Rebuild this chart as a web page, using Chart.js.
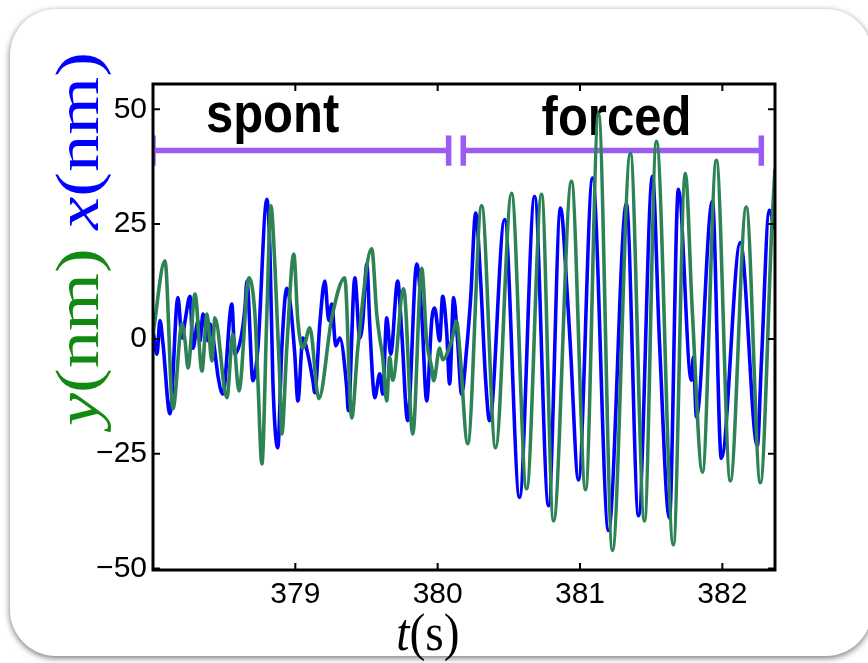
<!DOCTYPE html>
<html><head><meta charset="utf-8">
<script src="https://cdn.jsdelivr.net/npm/chart.js@4.4.1/dist/chart.umd.min.js"></script>
<style>
html,body{margin:0;padding:0;background:#fff;width:868px;height:663px;overflow:hidden;}
#card{position:absolute;left:10px;top:9px;width:862px;height:647px;border-radius:46px;background:#fff;box-shadow:0 2px 6px rgba(0,0,0,0.55);}
#wrap{position:absolute;left:0;top:0;width:868px;height:663px;}
</style></head><body>
<div id="card"></div>
<div id="wrap"><canvas id="c" width="868" height="663"></canvas></div>
<script>
// time axis (s) and displacement values (nm)
const tGreen = [378.000,378.084,378.140,378.204,378.225,378.246,378.295,378.344,378.379,378.414,
 378.435,378.519,378.561,378.604,378.674,378.716,378.737,378.765,378.800,378.828,
 378.856,378.891,378.905,378.940,378.989,379.018,379.053,379.102,379.165,379.256,
 379.347,379.396,379.439,379.537,379.572,379.593,379.614,379.642,379.663,379.684,
 379.761,379.825,379.888,379.923,379.958,379.972,380.014,380.035,380.098,380.133,
 380.154,380.211,380.309,380.407,380.519,380.625,380.730,380.814,380.940,381.039,
 381.130,381.228,381.354,381.453,381.537,381.656,381.740,381.789,381.860,381.958,
 382.056,382.168,382.267,382.351,382.370];
const yNm = [1.0,17.0,-15.2,3.3,-0.4,-6.3,9.8,-7.0,5.4,-4.8,
 4.6,-12.8,1.0,-11.3,13.3,5.4,-9.0,-27.2,5.4,29.0,
 16.3,-9.0,-20.7,-2.0,18.5,3.9,-2.0,2.4,-13.0,4.6,
 13.3,-17.2,-2.0,19.6,5.4,0.2,-4.0,-13.5,-4.0,-9.0,
 10.9,-20.7,15.4,-0.4,-6.3,-9.1,-2.0,-4.5,-0.4,3.9,
 -2.0,-22.8,29.0,-23.7,31.7,-32.6,31.5,-39.6,34.3,-32.8,
 49.0,-46.0,40.4,-39.6,43.0,-44.8,36.0,6.0,-29.0,38.9,
 -30.9,28.7,-31.3,26.5,37.0];
const tBlue = [378.000,378.028,378.049,378.070,378.119,378.175,378.204,378.225,378.260,378.281,
 378.316,378.330,378.351,378.386,378.400,378.449,378.456,378.491,378.554,378.575,
 378.618,378.646,378.660,378.702,378.737,378.800,378.821,378.842,378.877,378.905,
 378.940,378.968,378.996,379.018,379.053,379.088,379.123,379.137,379.172,379.207,
 379.235,379.256,379.284,379.312,379.361,379.372,379.418,379.453,379.474,379.502,
 379.523,379.544,379.558,379.593,379.614,379.642,379.670,379.719,379.747,379.789,
 379.853,379.888,379.923,379.958,379.979,380.014,380.035,380.063,380.084,380.112,
 380.140,380.168,380.204,380.232,380.267,380.302,380.337,380.365,380.470,380.575,
 380.681,380.779,380.863,380.912,380.933,380.989,381.088,381.200,381.326,381.411,
 381.509,381.558,381.628,381.691,381.782,381.796,381.818,381.930,381.993,382.126,
 382.246,382.274,382.330,382.365];
const xNm = [2.0,-3.3,4.0,-1.0,-16.3,9.0,0.2,3.9,9.3,-2.0,
 3.9,-0.5,5.4,-0.4,3.3,-6.3,-8.0,-12.0,7.6,-3.3,
 0.2,6.7,12.6,-9.1,-2.0,30.4,19.8,-9.0,-23.7,-2.0,
 11.0,6.7,-3.3,-13.5,0.2,-3.3,-9.0,-11.7,3.3,12.6,
 4.0,7.6,-1.5,0.2,-10.6,-15.6,13.3,0.2,3.9,16.3,
 3.0,-9.0,-12.8,-7.6,-12.0,4.6,-3.3,12.6,1.7,-17.8,
 16.3,5.4,-13.5,3.9,6.7,-0.4,9.3,1.7,-9.8,9.0,
 -0.4,-12.0,-2.0,9.0,27.4,12.6,-9.0,-17.8,26.0,-34.5,
 31.0,-36.3,28.5,9.0,-2.0,-30.7,35.0,-41.7,29.4,-38.5,
 35.4,-0.4,-39.0,32.6,-9.0,-4.0,-17.0,30.0,-26.0,21.0,
 -23.3,-5.4,28.0,24.0];
// interval bars (spont / forced)
const barNames = ['spont','forced'];
const barStart = [378.0, 380.18];
const barEnd = [380.077, 382.274];
const barLevel = [41, 41];
const capHalf = 3.3;
// tick values
const xTicks = [379, 380, 381, 382];
const yTicks = [-50, -25, 0, 25, 50];

const GREEN = '#2e8356', BLUE = '#0000ff', PURPLE = '#9b5cf6';
const annot = [{text: barNames[0], t: 378.84, v: 45.0}, {text: barNames[1], t: 381.256, v: 44.4}];

function series(t, v, color, order) {
  return {data: t.map((x, i) => ({x, y: v[i]})), borderColor: color, borderWidth: 3.6,
    pointRadius: 0, showLine: true, fill: false, cubicInterpolationMode: 'monotone', order};
}
const datasets = [series(tGreen, yNm, GREEN, 1), series(tBlue, xNm, BLUE, 2)];
barStart.forEach((s, i) => {
  const e = barEnd[i], L = barLevel[i];
  const seg = pts => ({data: pts, borderColor: PURPLE, borderWidth: 5.5, pointRadius: 0, showLine: true, fill: false, order: 3, borderCapStyle: 'butt'});
  datasets.push(seg([{x: s, y: L}, {x: e, y: L}]));
  datasets.push(seg([{x: s, y: L - capHalf}, {x: s, y: L + capHalf}]));
  datasets.push(seg([{x: e, y: L - capHalf}, {x: e, y: L + capHalf}]));
});

const deco = {
  id: 'deco',
  beforeDatasetsDraw(chart) {
    const {ctx, scales: {x, y}} = chart;
    ctx.save();
    ctx.font = 'bold 49px "Liberation Sans", Arial, sans-serif';
    ctx.fillStyle = '#000'; ctx.textAlign = 'center'; ctx.textBaseline = 'alphabetic';
    annot.forEach(a => {
      ctx.save();
      ctx.translate(x.getPixelForValue(a.t), y.getPixelForValue(a.v));
      ctx.scale(1, 1.12);
      ctx.fillText(a.text, 0, 0);
      ctx.restore();
    });
    ctx.restore();
  },
  afterDraw(chart) {
    const {ctx, chartArea: ca, scales: {x, y}} = chart;
    ctx.save();
    ctx.strokeStyle = '#000'; ctx.lineWidth = 3;
    ctx.strokeRect(ca.left, ca.top, ca.right - ca.left, ca.bottom - ca.top);
    ctx.lineWidth = 2;
    const L = 7;
    ctx.beginPath();
    xTicks.forEach(v => { const p = x.getPixelForValue(v);
      ctx.moveTo(p, ca.bottom); ctx.lineTo(p, ca.bottom - L); ctx.moveTo(p, ca.top); ctx.lineTo(p, ca.top + L); });
    yTicks.forEach(v => { const p = y.getPixelForValue(v);
      ctx.moveTo(ca.left, p); ctx.lineTo(ca.left + L, p); ctx.moveTo(ca.right, p); ctx.lineTo(ca.right - L, p); });
    ctx.stroke();
    // y title
    const serif = '"Liberation Serif", "DejaVu Serif", serif';
    const parts = [
      {s: 'y', c: '#128a12', it: true}, {s: '(nm)', c: '#128a12'}, {s: ' ', c: '#000'},
      {s: 'x', c: '#0000ff', it: true}, {s: '(nm)', c: '#0000ff'}];
    const fs = 61;
    const fontOf = p => (p.it ? 'italic ' : '') + fs + 'px ' + serif;
    let W = 0;
    parts.forEach(p => { ctx.font = fontOf(p); p.w = ctx.measureText(p.s).width; W += p.w; });
    const k = 374 / W;
    ctx.translate(98, 239);
    ctx.rotate(-Math.PI / 2);
    ctx.scale(k, 1);
    ctx.textBaseline = 'alphabetic'; ctx.textAlign = 'left';
    let cx = -W / 2;
    parts.forEach(p => { ctx.font = fontOf(p); ctx.fillStyle = p.c; ctx.fillText(p.s, cx, 0); cx += p.w; });
    ctx.setTransform(1, 0, 0, 1, 0, 0);
    // x title
    const xp = [{s: 't', it: true}, {s: '(s)'}];
    const fs2 = 44;
    let W2 = 0;
    xp.forEach(p => { ctx.font = (p.it ? 'italic ' : '') + fs2 + 'px ' + serif; p.w = ctx.measureText(p.s).width; W2 += p.w; });
    ctx.translate(428, 650);
    ctx.scale(1.08, 1.18);
    let x0 = -W2 / 2;
    ctx.fillStyle = '#000';
    xp.forEach(p => { ctx.font = (p.it ? 'italic ' : '') + fs2 + 'px ' + serif; ctx.fillText(p.s, x0, 0); x0 += p.w; });
    ctx.restore();
  }
};

const tickFont = {family: '"Liberation Sans", Arial, sans-serif', size: 30};
new Chart(document.getElementById('c'), {
  type: 'scatter',
  data: {datasets},
  options: {
    responsive: false, animation: false, devicePixelRatio: 1,
    layout: {padding: {left: 0, top: 84, right: 93, bottom: 0}},
    plugins: {legend: {display: false}, tooltip: {enabled: false}},
    scales: {
      x: {type: 'linear', min: 378.0, max: 382.37, position: 'bottom',
        grid: {display: false, drawTicks: false}, border: {display: false},
        afterBuildTicks: s => { s.ticks = xTicks.map(v => ({value: v})); },
        afterFit: s => { s.height = 93; },
        ticks: {font: tickFont, color: '#000', padding: 7, maxRotation: 0, callback: v => String(v)}},
      y: {type: 'linear', min: -50.3, max: 55.5,
        grid: {display: false, drawTicks: false}, border: {display: false},
        afterBuildTicks: s => { s.ticks = yTicks.map(v => ({value: v})); },
        afterFit: s => { s.width = 153; },
        ticks: {font: tickFont, color: '#000', padding: 6, callback: v => (v < 0 ? '\u2212' + Math.abs(v) : String(v))}}
    }
  },
  plugins: [deco]
});
</script></body></html>
